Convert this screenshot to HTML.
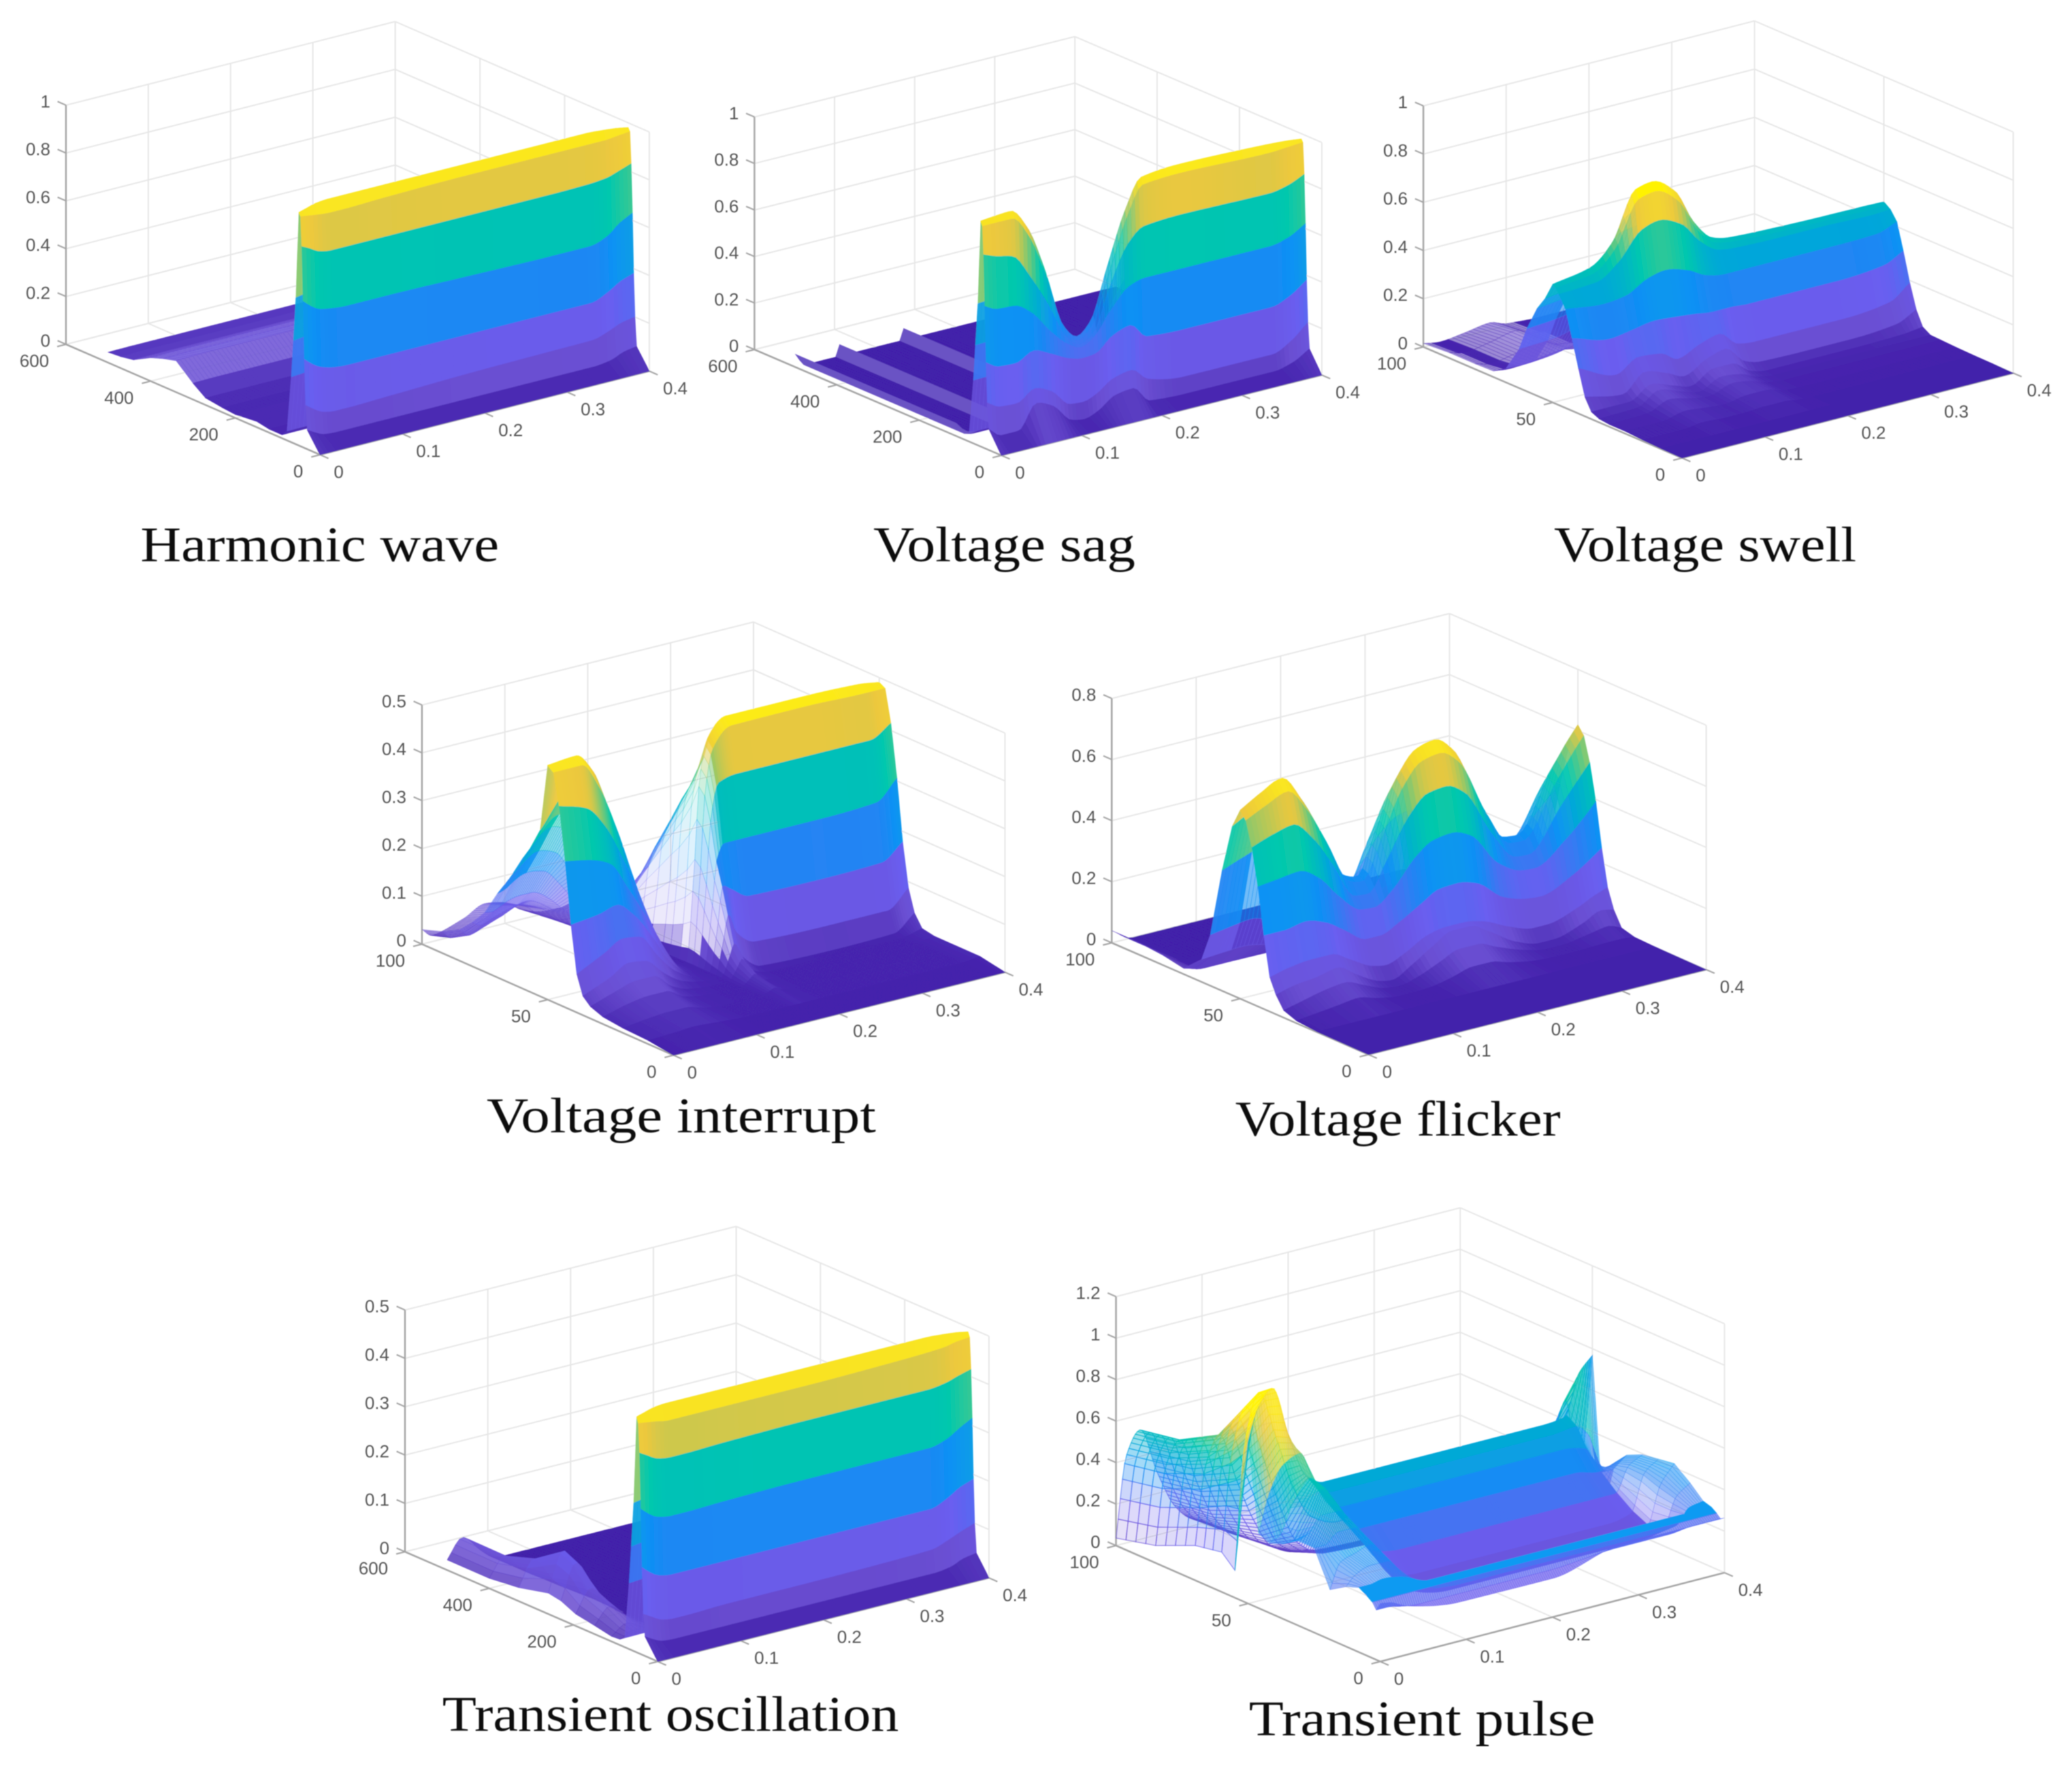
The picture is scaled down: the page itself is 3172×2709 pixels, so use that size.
<!DOCTYPE html>
<html lang="en">
<head>
<meta charset="utf-8">
<title>Spectrogram surfaces of power quality disturbances</title>
<style>
html,body{margin:0;padding:0;background:#fff}
svg{display:block}
.tick{font-family:"Liberation Sans",sans-serif;font-size:27px;fill:#555}
.title{font-family:"Liberation Serif",serif;font-size:76px;fill:#111}
</style>
</head>
<body>
<svg xmlns="http://www.w3.org/2000/svg" width="3172" height="2709" viewBox="0 0 3172 2709">
<defs><filter id="soft" filterUnits="userSpaceOnUse" x="0" y="0" width="3172" height="2709"><feGaussianBlur stdDeviation="0.8"/></filter></defs>
<rect width="3172" height="2709" fill="#fff"/>
<g id="root" filter="url(#soft)">
<g id="panels"></g>
<text class="title" x="215" y="859" textLength="549" lengthAdjust="spacingAndGlyphs">Harmonic wave</text>
<text class="title" x="1337" y="859" textLength="401" lengthAdjust="spacingAndGlyphs">Voltage sag</text>
<text class="title" x="2379" y="859" textLength="463" lengthAdjust="spacingAndGlyphs">Voltage swell</text>
<text class="title" x="745" y="1733" textLength="596" lengthAdjust="spacingAndGlyphs">Voltage interrupt</text>
<text class="title" x="1891" y="1738" textLength="498" lengthAdjust="spacingAndGlyphs">Voltage flicker</text>
<text class="title" x="677" y="2649" textLength="699" lengthAdjust="spacingAndGlyphs">Transient oscillation</text>
<text class="title" x="1912" y="2656" textLength="530" lengthAdjust="spacingAndGlyphs">Transient pulse</text>
</g>
</svg>
<script>
/* ---------- shared tick labels ---------- */
const timeTicks = [0, 0.1, 0.2, 0.3, 0.4];
const freqTicks600 = [0, 200, 400, 600];
const freqTicks100 = [0, 50, 100];
const magTicks1 = [0, 0.2, 0.4, 0.6, 0.8, 1];
const magTicks05 = [0, 0.1, 0.2, 0.3, 0.4, 0.5];
const magTicks08 = [0, 0.2, 0.4, 0.6, 0.8];
const magTicks12 = [0, 0.2, 0.4, 0.6, 0.8, 1, 1.2];

/* ---------- Harmonic wave ---------- */
const p1Times = [0, .01, .02, .036, .052, .1, .2, .3, .348, .37, .384, .4];
const p1Ridge = [.975, .985, .995, 1, 1, 1, 1, 1, 1, .995, .99, .98];
const p1FrontY = [46, 43, 40, 37, 34, 30, 0];
const p1FrontZ = [
 [.96, .955, .95, .945, .945, .95, .955, .955, .955, .955, .96, .966],
 [.837, .82, .80, .79, .79, .79, .79, .79, .793, .80, .815, .834],
 [.61, .58, .56, .55, .545, .545, .54, .535, .535, .56, .60, .63],
 [.37, .34, .32, .305, .30, .30, .30, .30, .30, .33, .36, .38],
 [.18, .155, .135, .125, .125, .13, .14, .145, .147, .17, .19, .20],
 [.08, .06, .045, .04, .04, .04, .04, .04, .04, .05, .07, .08],
 0];
const p1BackY = [500, 470, 440, 400, 370, 340, 300, 270, 230, 200, 150, 120, 100, 90, 78, 68, 63, 57];
const p1BackGain = [.045, .05, .06, .10, .12, .135, .07, .03, .02, .015, .025, .015, .015, .015, .04, .28, .44, .63];

/* ---------- Voltage sag ---------- */
const p2Times = [0, .015, .037, .059, .08, .103, .12, .136, .158, .18, .2, .246, .356, .38, .4];
const p2Ridge = [.97, .975, .98, .885, .69, .43, .37, .416, .64, .86, .985, 1, .99, .985, .977];
const p2FrontY = [46, 43, 40, 37, 34, 30, 0];
const p2FrontZ = [
 [.95, .95, .95, .85, .66, .41, .355, .40, .61, .83, .955, .965, .955, .96, .965],
 [.83, .81, .79, .68, .55, .39, .34, .37, .56, .72, .78, .79, .785, .80, .83],
 [.61, .585, .58, .53, .44, .36, .33, .36, .46, .54, .56, .56, .56, .58, .62],
 [.37, .34, .335, .37, .34, .30, .285, .29, .35, .375, .31, .30, .30, .33, .38],
 [.20, .17, .165, .21, .18, .105, .10, .12, .17, .185, .13, .10, .10, .14, .20],
 [.09, .05, .05, .15, .12, .04, .03, .05, .10, .11, .04, .03, .03, .05, .09],
 0];
const p2BackY = [500, 300, 110, 95, 78, 68, 63, 57];
const p2BackGain = [0, 0, 0, .012, .04, .28, .44, .63];
const p2FarTimes = [0, .012, .05, .055, .06, .13, .135, .14, .4];
const p2FarShape = [1, 0, 0, .9, 0, 0, .9, 0, 0];
const p2FarGain = [.055, .055, .055, .03, 0, 0, 0, 0];

/* ---------- Voltage swell ---------- */
const p3Times = [0, .046, .072, .1, .12, .148, .17, .192, .212, .268, .32, .376, .4];
const p3Ridge = [.49, .52, .60, .795, .81, .745, .60, .515, .497, .488, .484, .482, .48];
const p3FrontY = [48.75, 47.5, 45, 42.5, 40, 37.5, 35, 32, 28, 22, 15, 8, 0];
const p3FrontZ = [
 [.48, .50, .58, .76, .775, .71, .575, .50, .485, .475, .472, .47, .47],
 [.46, .47, .53, .64, .66, .62, .53, .475, .465, .46, .46, .455, .46],
 [.41, .39, .40, .45, .465, .44, .40, .385, .385, .385, .385, .39, .42],
 [.30, .257, .27, .285, .28, .27, .26, .26, .255, .255, .255, .27, .31],
 [.187, .12, .17, .16, .12, .16, .18, .12, .11, .11, .11, .13, .19],
 [.08, .05, .12, .09, .06, .11, .13, .06, .04, .036, .036, .05, .09],
 [.03, .03, .08, .05, .03, .08, .08, .03, .015, .015, .015, .02, .03],
 [.015, .02, .07, .04, .02, .06, .05, .02, .01, .01, .01, .01, .01],
 [.01, .015, .05, .03, .02, .05, .04, .015, .008, .008, .008, .008, .008],
 [.01, .01, .03, .02, .015, .03, .03, .01, .005, .005, .005, .005, .005],
 [.005, .005, .015, .01, .01, .015, .015, .005, .003, .003, .003, .003, .003],
 .002,
 0];
const p3BackY = [100, 90, 80, 73, 68, 63, 60, 56, 53];
const p3BackGain = [0, .005, .005, .03, .11, .33, .53, .74, .85];
const p3FarTimes = [0, .02, .05, .08, .1, .14, .4];
const p3FarShape = [.5, .1, .5, 1, .3, 0, 0];
const p3FarGain = [.03, .04, .04, .02, .01, 0, 0, 0, 0];

/* ---------- Voltage interrupt ---------- */
const p4Times = [0, .034, .055, .076, .098, .119, .146, .167, .176, .183, .192, .215, .306, .375, .4];
const p4Ridge = [.98, .99, .905, .695, .44, .23, .03, .01, .35, .75, .92, 1, 1, .993, .98];
const p4BackShape = [.8, .95, .905, .695, .44, .23, .03, .01, .35, .75, .92, 1, 1, .993, .9];
const p4FrontY = [47.7, 45.4, 43, 40.7, 38.4, 36, 33, 28, 20, 10, 0];
const p4FrontZ = [
 [.96, .96, .85, .66, .42, .21, .03, .01, .33, .72, .89, .97, .972, .965, .965],
 [.83, .79, .70, .55, .36, .18, .03, .01, .28, .62, .76, .78, .78, .78, .83],
 [.61, .585, .55, .43, .29, .14, .025, .01, .22, .46, .52, .52, .52, .53, .61],
 [.355, .37, .39, .33, .22, .10, .02, .01, .17, .36, .34, .29, .284, .29, .355],
 [.16, .22, .26, .25, .15, .07, .02, .01, .13, .25, .17, .11, .10, .10, .173],
 [.08, .13, .17, .16, .09, .04, .015, .01, .08, .14, .08, .02, .01, .015, .08],
 [.05, .09, .11, .11, .05, .02, .01, .01, .05, .09, .04, .01, .01, .01, .03],
 [.03, .06, .07, .07, .03, .015, .01, .01, .03, .05, .02, .01, .01, .01, .02],
 [.02, .035, .04, .04, .02, .01, .01, .01, .02, .03, .015, .01, .01, .01, .02],
 [.015, .02, .025, .02, .015, .01, .01, .01, .01, .01, .01, .01, .01, .01, .02],
 0];
const p4BackY = [100, 92, 85, 80, 75, 70, 65, 60, 57, 53];
const p4BackGain = [.02, .05, .1, .18, .28, .42, .55, .68, .75, .87];
const p4FarTimes = [0, .012, .05, .076, .098, .12, .15, .4];
const p4FarShape = [.5, .1, .5, 1, .9, .4, .1, 0];
const p4FarGain = [.09, .1, .1, .08, .05, .03, 0, 0, 0, 0];

/* ---------- Voltage flicker ---------- */
const p5Times = [0, .024, .049, .073, .095, .122, .138, .16, .187, .208, .23, .252, .284, .312, .328, .366, .384, .4];
const p5Ridge = [.771, .82, .86, .75, .60, .40, .38, .545, .754, .84, .86, .80, .552, .39, .384, .597, .70, .774];
const p5FrontY = [47.7, 45.4, 43, 40.7, 38.4, 36, 33, 28, 20, 0];
const p5FrontZ = [
 [.74, .78, .815, .715, .57, .385, .37, .52, .72, .80, .815, .76, .525, .375, .37, .57, .665, .74],
 [.64, .67, .69, .61, .49, .335, .33, .45, .61, .68, .69, .645, .45, .33, .325, .49, .57, .64],
 [.49, .50, .51, .46, .37, .29, .285, .34, .45, .50, .51, .48, .34, .285, .28, .37, .43, .49],
 [.30, .30, .315, .29, .24, .18, .18, .215, .27, .31, .315, .295, .21, .18, .175, .23, .27, .31],
 [.14, .16, .17, .17, .13, .08, .07, .1, .15, .165, .165, .15, .10, .07, .07, .11, .14, .16],
 [.08, .10, .11, .127, .08, .03, .02, .06, .12, .16, .16, .12, .05, .02, .02, .06, .09, .08],
 [.03, .05, .07, .08, .05, .015, .01, .03, .07, .10, .10, .07, .03, .01, .01, .03, .04, .02],
 [.01, .02, .03, .04, .02, .005, .005, .01, .03, .05, .05, .03, .01, .005, .005, .01, .01, .005],
 .002,
 0];
const p5BackY = [100, 90, 80, 72, 65, 61.6, 57, 53];
const p5BackGain = [0, 0, 0, .005, .12, .27, .64, .9];
const p5FarTimes = [0, .024, .4];
const p5FarShape = [1, 0, 0];
const p5FarGain = [.05, .05, .04, .02, 0, 0, 0, 0];

/* ---------- Transient oscillation ---------- */
const p6Times = [0, .01, .02, .036, .052, .1, .2, .3, .348, .37, .384, .4];
const p6Ridge = [.975, .985, .995, 1, 1, 1, 1, 1, 1, .995, .99, .98];
const p6FrontY = [46, 43, 40, 37, 34, 30, 0];
const p6FrontZ = [
 [.95, .945, .94, .93, .93, .93, .93, .935, .94, .945, .955, .96],
 [.83, .81, .79, .78, .78, .785, .79, .79, .79, .80, .815, .83],
 [.60, .57, .55, .54, .54, .545, .55, .55, .55, .57, .60, .63],
 [.36, .33, .31, .30, .30, .30, .30, .30, .30, .33, .36, .38],
 [.17, .15, .13, .12, .12, .125, .126, .13, .135, .16, .18, .20],
 [.08, .06, .045, .04, .04, .04, .04, .04, .04, .05, .07, .08],
 0];
const p6BackY = [500, 400, 330, 260, 230, 195, 150, 110, 90, 78, 68, 63, 57];
const p6BackGain = [0, 0, 0, 0, 0, 0, 0, 0, .01, .04, .28, .44, .63];
const p6FarTimes = [0, .018, .04, .056, .07, .4];
const p6FarShape = [.35, 1, .4, .05, 0, 0];
const p6FarGain = [.12, .118, .16, .246, .22, .14, .10, .06, .04, 0, 0, 0, 0];

/* ---------- Transient pulse ---------- */
const p7Times = [0, .012, .028, .048, .068, .088, .12, .2, .28, .34, .368, .384, .4];
const p7Ridge = [.65, .78, .84, .62, .45, .41, .41, .41, .41, .41, .42, .58, .64];
const p7BackY = [100, 85, 70, 60, 55];
const p7BackZ = [
 [.03, .35, .44, .25, .10, .03, 0, 0, 0, 0, 0, 0, 0],
 [.07, .38, .47, .28, .12, .04, 0, 0, 0, 0, 0, 0, 0],
 [.14, .45, .56, .36, .18, .06, .01, 0, 0, 0, .05, .1, .1],
 [.16, .55, .72, .5, .28, .12, .05, .04, .04, .06, .10, .3, .05],
 [.11, .62, .80, .6, .38, .25, .2, .2, .2, .25, .30, .45, .05]];
const p7FrontY = [46, 42, 37, 31, 25, 19, 13, 8, 5, 3, 1.5, 0];
const p7FrontZ = [
 [.30, .45, .55, .58, .42, .39, .39, .39, .39, .39, .40, .35, .03],
 [.28, .30, .42, .50, .38, .35, .35, .35, .35, .35, .33, .22, .22],
 [.30, .30, .45, .48, .34, .28, .28, .28, .28, .28, .26, .28, .30],
 [.34, .36, .42, .42, .30, .22, .2, .2, .2, .2, .2, .3, .33],
 [.34, .34, .38, .38, .26, .16, .13, .13, .13, .13, .15, .3, .34],
 [.2, .3, .32, .34, .24, .12, .10, .10, .10, .10, .12, .28, .35],
 [.24, .28, .30, .30, .22, .14, .12, .12, .12, .12, .14, .26, .3],
 [.26, .26, .27, .26, .23, .18, .17, .17, .17, .17, .18, .24, .25],
 .24,
 .225,
 [.2, .2, .19, .18, .18, .18, .18, .18, .2, .2, .21, .21, .21],
 [.233, .226, .2, .18, .165, .157, .156, .155, .22, .22, .22, .22, .22]];

/* ---------- colour map ---------- */
const cmapLevels = [0, .09, .25, .46, .685, .88, .98, 1];
const cmapColors = [[66,32,170],[106,79,210],[106,94,240],[10,146,244],[0,200,174],[236,200,62],[251,232,30],[255,242,0]];

function colormap(v){
  v = Math.max(0, Math.min(1, v));
  for(let i = 1; i < cmapLevels.length; i++){
    if(v <= cmapLevels[i]){
      const f = (v - cmapLevels[i-1]) / (cmapLevels[i] - cmapLevels[i-1]);
      const a = cmapColors[i-1], b = cmapColors[i];
      return 'rgb(' + Math.round(a[0]+(b[0]-a[0])*f) + ',' + Math.round(a[1]+(b[1]-a[1])*f) + ',' + Math.round(a[2]+(b[2]-a[2])*f) + ')';
    }
  }
  return 'rgb(255,242,0)';
}

function pchip(xs, ys){
  const n = xs.length, h = [], d = [], m = new Array(n).fill(0);
  for(let i = 0; i < n-1; i++){ h[i] = xs[i+1]-xs[i]; d[i] = (ys[i+1]-ys[i])/h[i]; }
  m[0] = d[0]; m[n-1] = d[n-2];
  for(let i = 1; i < n-1; i++){
    if(d[i-1]*d[i] > 0){
      const w1 = 2*h[i]+h[i-1], w2 = h[i]+2*h[i-1];
      m[i] = (w1+w2)/(w1/d[i-1]+w2/d[i]);
    }
  }
  return function(x){
    x = Math.max(xs[0], Math.min(xs[n-1], x));
    let k = 0;
    while(k < n-2 && x > xs[k+1]) k++;
    const s = (x-xs[k])/h[k], s2 = s*s, s3 = s2*s;
    return (2*s3-3*s2+1)*ys[k] + (s3-2*s2+s)*h[k]*m[k] + (-2*s3+3*s2)*ys[k+1] + (s3-s2)*h[k]*m[k+1];
  };
}

const NS = 'http://www.w3.org/2000/svg';
const panelsRoot = document.getElementById('panels');

function drawPanel(p){
  const group = document.createElementNS(NS, 'g');
  
  
  panelsRoot.appendChild(group);

  const tMax = p.tTicks[p.tTicks.length-1];
  const yMax = p.yTicks[p.yTicks.length-1];
  const zMax = p.zTicks[p.zTicks.length-1];
  const Tv = [p.R[0]-p.F[0], p.R[1]-p.F[1]];
  const Yv = [p.L[0]-p.F[0], p.L[1]-p.F[1]];

  /* axis function: time, frequency, height (fraction of the z axis) -> pixels */
  function project(t, y, z){
    return [p.F[0] + Tv[0]*t/tMax + Yv[0]*y/yMax, p.F[1] + Tv[1]*t/tMax + Yv[1]*y/yMax - z*p.H];
  }
  function line(a, b, color, width, name){
    const el = document.createElementNS(NS, 'line');
    el.setAttribute('x1', a[0]); el.setAttribute('y1', a[1]);
    el.setAttribute('x2', b[0]); el.setAttribute('y2', b[1]);
    el.setAttribute('stroke', color); el.setAttribute('stroke-width', width);
    
    
    group.appendChild(el);
  }
  function label(str, x, y, anchor, name){
    const el = document.createElementNS(NS, 'text');
    el.setAttribute('class', 'tick');
    el.setAttribute('x', x); el.setAttribute('y', y);
    el.setAttribute('text-anchor', anchor);
    el.textContent = str;
    
    
    group.appendChild(el);
  }

  /* walls and grid */
  const gridCol = '#e6e6e6';
  p.zTicks.forEach(function(v){
    const z = v/zMax;
    line(project(0,yMax,z), project(tMax,yMax,z), gridCol, 2, 'z-gridline');
    line(project(tMax,yMax,z), project(tMax,0,z), gridCol, 2, 'z-gridline');
  });
  p.tTicks.forEach(function(t){
    line(project(t,yMax,0), project(t,yMax,1), gridCol, 2, 't-gridline');
    line(project(t,yMax,0), project(t,0,0), gridCol, 2, 't-gridline');
  });
  p.yTicks.forEach(function(y){
    line(project(tMax,y,0), project(tMax,y,1), gridCol, 2, 'y-gridline');
    line(project(tMax,y,0), project(0,y,0), gridCol, 2, 'y-gridline');
  });

  /* axes */
  const axisCol = '#a4a4a4';
  line(project(0,yMax,0), project(0,yMax,1), axisCol, 2.6, 'z-axis');
  line(project(0,yMax,0), project(0,0,0), axisCol, 2.6, 'y-axis');
  line(project(0,0,0), project(tMax,0,0), axisCol, 2.6, 't-axis');
  const yTick = 14*yMax/Math.hypot(Yv[0],Yv[1]), tTick = 14*tMax/Math.hypot(Tv[0],Tv[1]);
  p.zTicks.forEach(function(v){
    line(project(0,yMax,v/zMax), project(0,yMax+yTick,v/zMax), axisCol, 2.2, 'z-tick');
  });
  p.yTicks.forEach(function(y){
    line(project(0,y,0), project(-tTick,y,0), axisCol, 2.2, 'y-tick');
  });
  p.tTicks.forEach(function(t){
    line(project(t,0,0), project(t,-yTick,0), axisCol, 2.2, 't-tick');
  });

  /* surface rows on a uniform time grid */
  const dt = p.dt || 0.005;
  const grid = [];
  const steps = Math.round(tMax/dt);
  for(let i = 0; i <= steps; i++) grid.push(i*dt);
  const rows = [];
  const ridgeFn = pchip(p.times, p.ridge);
  rows.push({y:p.ridgeY, z:grid.map(ridgeFn), back:false});
  p.frontY.forEach(function(y, r){
    const v = p.frontZ[r];
    if(typeof v === 'number'){ rows.push({y:y, z:grid.map(function(){return v;}), back:false}); }
    else { rows.push({y:y, z:grid.map(pchip(p.times, v)), back:false}); }
  });
  if(p.backZ){
    p.backY.forEach(function(y, r){
      rows.push({y:y, z:grid.map(pchip(p.times, p.backZ[r])), back:true});
    });
  } else {
    const shapeFn = pchip(p.times, p.backShape || p.ridge);
    const farFn = p.farTimes ? pchip(p.farTimes, p.farShape) : null;
    p.backY.forEach(function(y, r){
      const farVals = grid.map(function(t){ return farFn ? p.farGain[r]*farFn(t) : 0; });
      rows.push({y:y, back:true, far:farVals, z:grid.map(function(t, i){
        return p.backGain[r]*shapeFn(t) + farVals[i];
      })});
    });
  }
  rows.sort(function(a,b){ return b.y-a.y; });

  /* optional finer rows for the wire-mesh look behind the ridge */
  let drawRows = rows;
  if(p.meshStep){
    drawRows = [];
    rows.forEach(function(r, k){
      drawRows.push(r);
      const nxt = rows[k+1];
      if(nxt && r.back){
        const parts = Math.max(1, Math.round((r.y-nxt.y)/p.meshStep));
        for(let s = 1; s < parts; s++){
          const f = s/parts;
          drawRows.push({y:r.y+(nxt.y-r.y)*f, back:true, z:r.z.map(function(v,i){ return v+(nxt.z[i]-v)*f; })});
        }
      }
    });
  }

  const dtPx = Math.hypot(Tv[0],Tv[1])*dt/tMax;
  const surface = document.createElementNS(NS, 'g');
  
  
  group.appendChild(surface);

  for(let r = 0; r < drawRows.length-1; r++){
    const a = drawRows[r], b = drawRows[r+1];
    for(let i = grid.length-2; i >= 0; i--){
      const t0 = grid[i], t1 = grid[i+1];
      if(a.back && p.backHideAfter && t0 > p.backHideAfter) continue;
      const za0 = a.z[i], za1 = a.z[i+1], zb0 = b.z[i], zb1 = b.z[i+1];
      const avg = (za0+za1+zb0+zb1)/4;
      const norm = avg/p.cMax;
      if(a.back && p.skipZeroBack && norm < .02) continue;
      const dz = ((za1-za0)+(zb1-zb0))/2;
      const farAvg = a.far ? (a.far[i]+a.far[i+1])/2 : 0;
      let alpha = 1;
      if(dz > 0 && norm > .1){
        const stretch = Math.hypot(dtPx, dz*p.H)/dtPx;
        alpha = Math.max(.28, Math.min(1, 1.6/stretch*(dtPx/6.3 < 1 ? Math.sqrt(6.3/dtPx) : 1)));
      }
      if(a.back){
        if(p.backAlphaByZ){ alpha = .12 + .5*Math.min(1, norm); }
        else if(a.y < 75 && p.solidT && t0 < p.solidT && norm > .07){ alpha = .95; }
        else if(farAvg > .006){ alpha = p.farAlpha || p.backAlpha; }
        else if(norm > .07){ alpha *= p.backAlpha; }
      }
      const midY = (a.y+b.y)/2;
      if(p.meshEdgeT && !a.back && (t0 < p.meshEdgeT[0] || t0 > p.meshEdgeT[1]) && midY > 9) alpha *= .55;
      if(p.meshFront && midY < p.meshFront) alpha *= .7;
      const inStrip = p.stripY && midY > p.stripY[0] && midY < p.stripY[1];
      let color = inStrip ? p.stripColor : colormap(norm);
      if(p.farColor && farAvg > .006) color = p.farColor;
      const pts = [project(t0,a.y,za0), project(t1,a.y,za1), project(t1,b.y,zb1), project(t0,b.y,zb0)];
      const el = document.createElementNS(NS, 'polygon');
      el.setAttribute('points', pts.map(function(q){ return q[0].toFixed(1)+','+q[1].toFixed(1); }).join(' '));
      el.setAttribute('fill', color);
      el.setAttribute('stroke', color);
      el.setAttribute('stroke-width', alpha < 1 ? (p.backAlphaByZ && a.back ? '1.1' : '0.5') : '0.8');
      if(alpha < 1){
        el.setAttribute('fill-opacity', alpha.toFixed(2));
        el.setAttribute('stroke-opacity', (p.backAlphaByZ && a.back ? .8 : Math.min(1, alpha+.2)).toFixed(2));
      }
      
      
      surface.appendChild(el);
    }
  }

  /* tick labels */
  p.zTicks.forEach(function(v){
    const q = project(0,yMax,v/zMax);
    label(String(v), q[0]-24, q[1]+3.5, 'end', 'z-tick-label');
  });
  p.yTicks.forEach(function(y){
    const q = project(0,y,0);
    label(String(y), q[0]-26, q[1]+34.5, 'end', 'y-tick-label');
  });
  p.tTicks.forEach(function(t){
    const q = project(t,0,0);
    label(String(t), q[0]+21, q[1]+35.5, 'start', 't-tick-label');
  });
}

drawPanel({name:'panel-harmonic-wave', F:[490,696], L:[101,527], R:[994,568], H:366,
  tTicks:timeTicks, yTicks:freqTicks600, zTicks:magTicks1, cMax:1, backAlpha:.85, ridgeY:50, solidT:.012,
  times:p1Times, ridge:p1Ridge, frontY:p1FrontY, frontZ:p1FrontZ, backY:p1BackY, backGain:p1BackGain});
drawPanel({name:'panel-voltage-sag', F:[1533,697], L:[1155,535], R:[2023.5,574], H:356,
  tTicks:timeTicks, yTicks:freqTicks600, zTicks:magTicks1, cMax:1, backAlpha:.8, ridgeY:50, solidT:.012,
  farAlpha:1, farColor:'#6a52c4',
  times:p2Times, ridge:p2Ridge, frontY:p2FrontY, frontZ:p2FrontZ, backY:p2BackY, backGain:p2BackGain,
  farTimes:p2FarTimes, farShape:p2FarShape, farGain:p2FarGain});
drawPanel({name:'panel-voltage-swell', F:[2575,701], L:[2179,531], R:[3082,571], H:369,
  tTicks:timeTicks, yTicks:freqTicks100, zTicks:magTicks1, cMax:.78, backAlpha:.6, ridgeY:50, solidT:.035, farAlpha:.55,
  times:p3Times, ridge:p3Ridge, frontY:p3FrontY, frontZ:p3FrontZ, backY:p3BackY, backGain:p3BackGain,
  farTimes:p3FarTimes, farShape:p3FarShape, farGain:p3FarGain});
drawPanel({name:'panel-voltage-interrupt', F:[1031,1615], L:[646,1445], R:[1538.5,1488], H:366,
  tTicks:timeTicks, yTicks:freqTicks100, zTicks:magTicks05, cMax:1, backAlpha:.45, ridgeY:50, solidT:.035, farAlpha:.55,
  dt:.0025, backHideAfter:.195,
  times:p4Times, ridge:p4Ridge, backShape:p4BackShape, frontY:p4FrontY, frontZ:p4FrontZ, backY:p4BackY, backGain:p4BackGain,
  farTimes:p4FarTimes, farShape:p4FarShape, farGain:p4FarGain});
drawPanel({name:'panel-voltage-flicker', F:[2095,1614], L:[1702,1443], R:[2612,1484], H:374,
  tTicks:timeTicks, yTicks:freqTicks100, zTicks:magTicks08, cMax:.86, backAlpha:.6, ridgeY:50, solidT:.035, farAlpha:.9,
  times:p5Times, ridge:p5Ridge, frontY:p5FrontY, frontZ:p5FrontZ, backY:p5BackY, backGain:p5BackGain,
  farTimes:p5FarTimes, farShape:p5FarShape, farGain:p5FarGain});
drawPanel({name:'panel-transient-oscillation', F:[1007,2543], L:[620,2375], R:[1514,2415], H:370,
  tTicks:timeTicks, yTicks:freqTicks600, zTicks:magTicks05, cMax:1, backAlpha:.8, ridgeY:50, solidT:.012, farAlpha:.85,
  times:p6Times, ridge:p6Ridge, frontY:p6FrontY, frontZ:p6FrontZ, backY:p6BackY, backGain:p6BackGain,
  farTimes:p6FarTimes, farShape:p6FarShape, farGain:p6FarGain});
drawPanel({name:'panel-transient-pulse', F:[2113,2543], L:[1708.5,2365.5], R:[2640,2407], H:381,
  tTicks:timeTicks, yTicks:freqTicks100, zTicks:magTicks12, cMax:.72, backAlpha:.4, backAlphaByZ:true, skipZeroBack:true,
  ridgeY:50, dt:.0025, meshStep:4,
  meshEdgeT:[.07,.368], meshFront:3, stripY:[3,8], stripColor:'#0a9af2',
  times:p7Times, ridge:p7Ridge, frontY:p7FrontY, frontZ:p7FrontZ, backY:p7BackY, backZ:p7BackZ});
</script>
</body>
</html>
